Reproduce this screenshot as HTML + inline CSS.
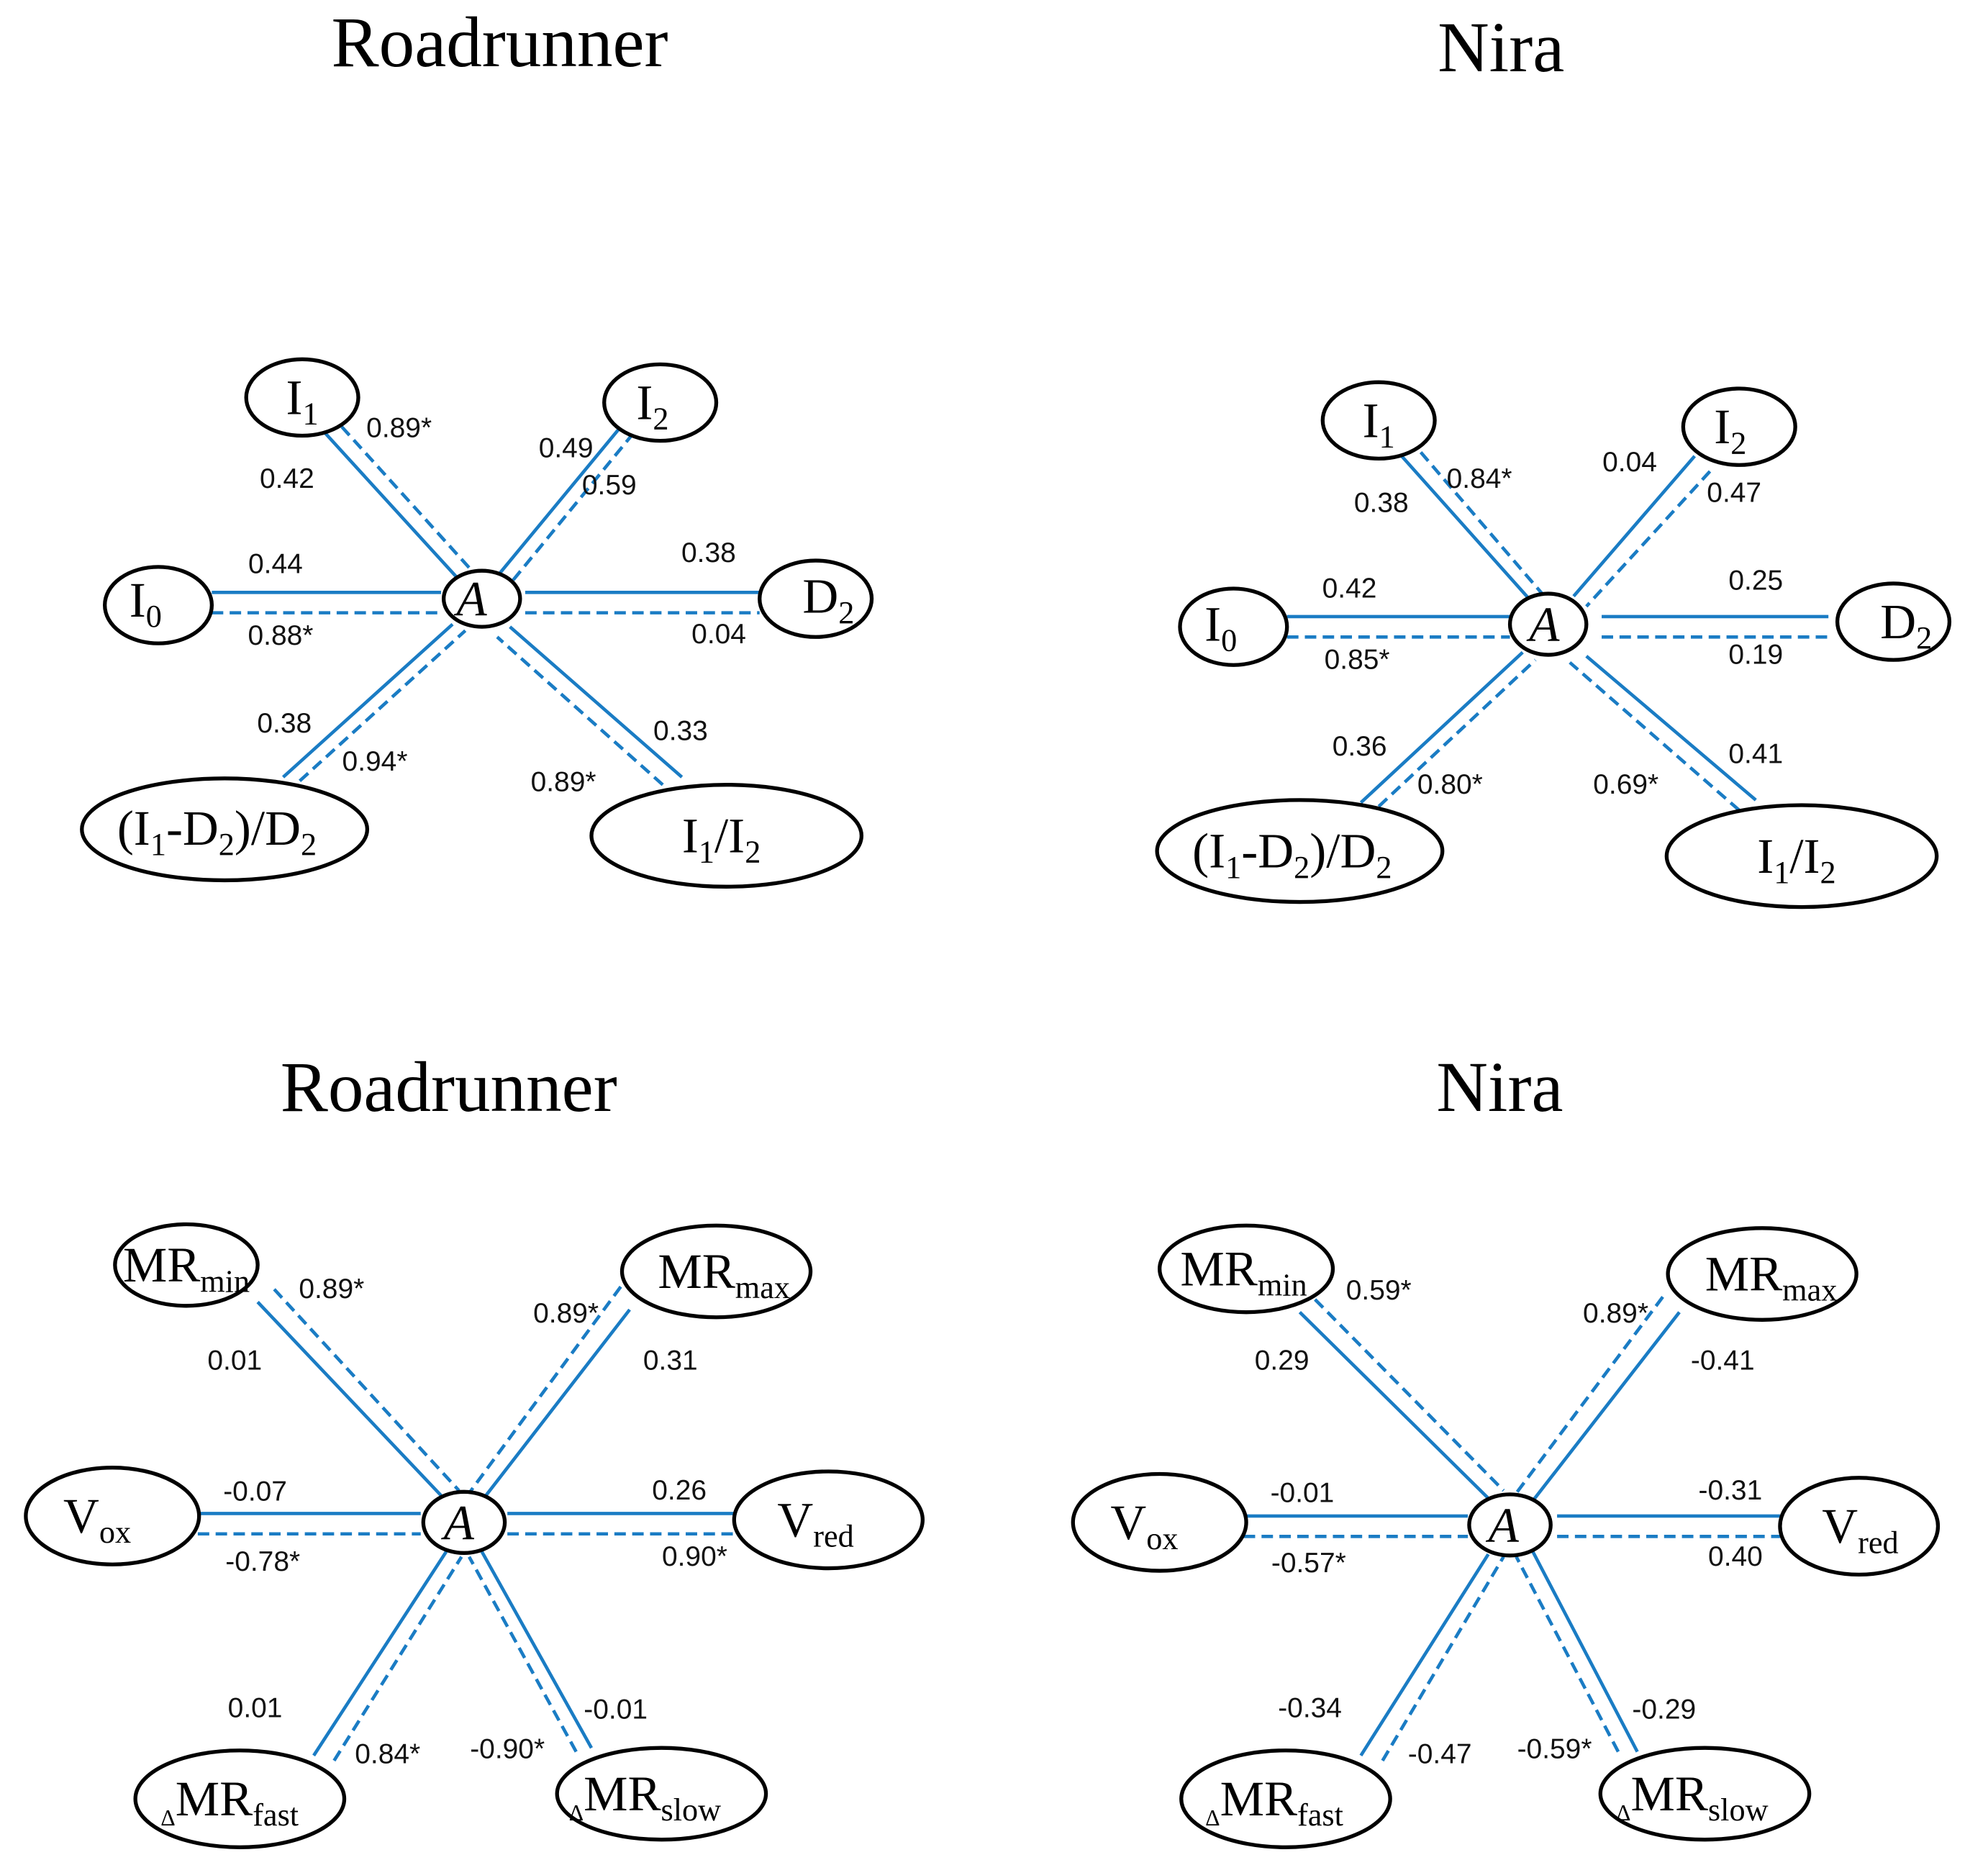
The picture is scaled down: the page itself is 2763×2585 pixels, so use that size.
<!DOCTYPE html>
<html><head><meta charset="utf-8"><style>
html,body{margin:0;padding:0;background:#fff}
svg{display:block}
.t{font-family:"Liberation Serif",serif;font-size:56px}
.n{font-family:"Liberation Serif",serif;font-size:39px}
.l{font-family:"Liberation Sans","DejaVu Sans",sans-serif;font-size:22px;fill:#111}
.s{stroke:#1a7cc4;stroke-width:2.6;fill:none}
.d{stroke:#1a7cc4;stroke-width:2.6;fill:none;stroke-dasharray:9 5}
ellipse{fill:#fff;stroke:#000;stroke-width:3}
</style></head><body>
<svg width="2763" height="2585" viewBox="0 0 1560 1460" xmlns="http://www.w3.org/2000/svg">
<g text-anchor="middle">
<!-- Panel 1 -->
<text class="t" x="392" y="52">Roadrunner</text>
<line class="s" x1="255" y1="340" x2="360" y2="455"/><line class="d" x1="268" y1="335" x2="372" y2="450"/>
<line class="s" x1="487" y1="335" x2="392" y2="450"/><line class="d" x1="497" y1="340" x2="402" y2="456"/>
<line class="s" x1="166" y1="465" x2="346" y2="465"/><line class="d" x1="166" y1="481" x2="346" y2="481"/>
<line class="s" x1="412" y1="465" x2="596" y2="465"/><line class="d" x1="412" y1="481" x2="596" y2="481"/>
<line class="s" x1="222" y1="610" x2="355" y2="490"/><line class="d" x1="235" y1="613" x2="365" y2="495"/>
<line class="s" x1="535" y1="610" x2="400" y2="492"/><line class="d" x1="520" y1="616" x2="390" y2="500"/>
<ellipse cx="378" cy="470" rx="30" ry="22"/><text class="n" x="370" y="483" font-style="italic">A</text>
<ellipse cx="237" cy="312" rx="44" ry="30"/><text class="n" x="237" y="325">I<tspan font-size="25" dy="8">1</tspan></text>
<ellipse cx="518" cy="316" rx="44" ry="30"/><text class="n" x="512" y="329">I<tspan font-size="25" dy="8">2</tspan></text>
<ellipse cx="124" cy="475" rx="42" ry="30"/><text class="n" x="114" y="484">I<tspan font-size="25" dy="8">0</tspan></text>
<ellipse cx="640" cy="470" rx="44" ry="30"/><text class="n" x="650" y="481">D<tspan font-size="25" dy="8">2</tspan></text>
<ellipse cx="176" cy="651" rx="112" ry="40"/><text class="n" x="170" y="663">(I<tspan font-size="25" dy="8">1</tspan><tspan dy="-8">-D</tspan><tspan font-size="25" dy="8">2</tspan><tspan dy="-8">)/D</tspan><tspan font-size="25" dy="8">2</tspan></text>
<ellipse cx="570" cy="656" rx="106" ry="40"/><text class="n" x="566" y="669">I<tspan font-size="25" dy="8">1</tspan><tspan dy="-8">/I</tspan><tspan font-size="25" dy="8">2</tspan></text>
<text class="l" x="313" y="343">0.89*</text><text class="l" x="225" y="383">0.42</text>
<text class="l" x="444" y="359">0.49</text><text class="l" x="478" y="388">0.59</text>
<text class="l" x="216" y="450">0.44</text><text class="l" x="220" y="506">0.88*</text>
<text class="l" x="556" y="441">0.38</text><text class="l" x="564" y="505">0.04</text>
<text class="l" x="223" y="575">0.38</text><text class="l" x="294" y="605">0.94*</text>
<text class="l" x="442" y="621">0.89*</text><text class="l" x="534" y="581">0.33</text>

<!-- Panel 2 -->
<text class="t" x="1178" y="56">Nira</text>
<line class="s" x1="1100" y1="358" x2="1200" y2="470"/><line class="d" x1="1115" y1="355" x2="1212" y2="468"/>
<line class="s" x1="1330" y1="358" x2="1235" y2="468"/><line class="d" x1="1342" y1="370" x2="1245" y2="476"/>
<line class="s" x1="1010" y1="484" x2="1185" y2="484"/><line class="d" x1="1010" y1="500" x2="1185" y2="500"/>
<line class="s" x1="1257" y1="484" x2="1435" y2="484"/><line class="d" x1="1257" y1="500" x2="1435" y2="500"/>
<line class="s" x1="1068" y1="630" x2="1195" y2="512"/><line class="d" x1="1082" y1="633" x2="1205" y2="518"/>
<line class="s" x1="1378" y1="628" x2="1245" y2="515"/><line class="d" x1="1365" y1="636" x2="1232" y2="520"/>
<ellipse cx="1215" cy="490" rx="30" ry="24"/><text class="n" x="1212" y="503" font-style="italic">A</text>
<ellipse cx="1082" cy="330" rx="44" ry="30"/><text class="n" x="1082" y="343">I<tspan font-size="25" dy="8">1</tspan></text>
<ellipse cx="1365" cy="335" rx="44" ry="30"/><text class="n" x="1358" y="348">I<tspan font-size="25" dy="8">2</tspan></text>
<ellipse cx="968" cy="492" rx="42" ry="30"/><text class="n" x="958" y="503">I<tspan font-size="25" dy="8">0</tspan></text>
<ellipse cx="1486" cy="488" rx="44" ry="30"/><text class="n" x="1496" y="501">D<tspan font-size="25" dy="8">2</tspan></text>
<ellipse cx="1020" cy="668" rx="112" ry="40"/><text class="n" x="1014" y="681">(I<tspan font-size="25" dy="8">1</tspan><tspan dy="-8">-D</tspan><tspan font-size="25" dy="8">2</tspan><tspan dy="-8">)/D</tspan><tspan font-size="25" dy="8">2</tspan></text>
<ellipse cx="1414" cy="672" rx="106" ry="40"/><text class="n" x="1410" y="685">I<tspan font-size="25" dy="8">1</tspan><tspan dy="-8">/I</tspan><tspan font-size="25" dy="8">2</tspan></text>
<text class="l" x="1084" y="402">0.38</text><text class="l" x="1161" y="383">0.84*</text>
<text class="l" x="1279" y="370">0.04</text><text class="l" x="1361" y="394">0.47</text>
<text class="l" x="1059" y="469">0.42</text><text class="l" x="1065" y="525">0.85*</text>
<text class="l" x="1378" y="463">0.25</text><text class="l" x="1378" y="521">0.19</text>
<text class="l" x="1067" y="593">0.36</text><text class="l" x="1138" y="623">0.80*</text>
<text class="l" x="1276" y="623">0.69*</text><text class="l" x="1378" y="599">0.41</text>

<!-- Panel 3 -->
<text class="t" x="352" y="872">Roadrunner</text>
<line class="s" x1="202" y1="1022" x2="348" y2="1176"/><line class="d" x1="215" y1="1012" x2="360" y2="1170"/>
<line class="s" x1="494" y1="1028" x2="378" y2="1178"/><line class="d" x1="487" y1="1010" x2="368" y2="1172"/>
<line class="s" x1="155" y1="1188" x2="330" y2="1188"/><line class="d" x1="155" y1="1204" x2="330" y2="1204"/>
<line class="s" x1="398" y1="1188" x2="576" y2="1188"/><line class="d" x1="398" y1="1204" x2="576" y2="1204"/>
<line class="s" x1="246" y1="1378" x2="350" y2="1218"/><line class="d" x1="262" y1="1382" x2="362" y2="1222"/>
<line class="s" x1="464" y1="1372" x2="378" y2="1218"/><line class="d" x1="452" y1="1375" x2="368" y2="1222"/>
<ellipse cx="364" cy="1195" rx="32" ry="24"/><text class="n" x="360" y="1208" font-style="italic">A</text>
<ellipse cx="146" cy="993" rx="56" ry="32"/><text class="n" x="146" y="1006">MR<tspan font-size="25" dy="8">min</tspan></text>
<ellipse cx="562" cy="998" rx="74" ry="36"/><text class="n" x="568" y="1011">MR<tspan font-size="25" dy="8">max</tspan></text>
<ellipse cx="88" cy="1190" rx="68" ry="38"/><text class="n" x="76" y="1203">V<tspan font-size="25" dy="8">ox</tspan></text>
<ellipse cx="650" cy="1193" rx="74" ry="38"/><text class="n" x="640" y="1206">V<tspan font-size="25" dy="8">red</tspan></text>
<ellipse cx="188" cy="1412" rx="82" ry="38"/><text class="n" x="180" y="1425"><tspan font-size="18" dy="8">Δ</tspan><tspan dy="-8">MR</tspan><tspan font-size="25" dy="8">fast</tspan></text>
<ellipse cx="519" cy="1408" rx="82" ry="36"/><text class="n" x="506" y="1421"><tspan font-size="18" dy="8">Δ</tspan><tspan dy="-8">MR</tspan><tspan font-size="25" dy="8">slow</tspan></text>
<text class="l" x="260" y="1019">0.89*</text><text class="l" x="184" y="1075">0.01</text>
<text class="l" x="444" y="1038">0.89*</text><text class="l" x="526" y="1075">0.31</text>
<text class="l" x="200" y="1178">-0.07</text><text class="l" x="206" y="1233">-0.78*</text>
<text class="l" x="533" y="1177">0.26</text><text class="l" x="545" y="1229">0.90*</text>
<text class="l" x="200" y="1348">0.01</text><text class="l" x="304" y="1384">0.84*</text>
<text class="l" x="398" y="1380">-0.90*</text><text class="l" x="483" y="1349">-0.01</text>

<!-- Panel 4 -->
<text class="t" x="1177" y="872">Nira</text>
<line class="s" x1="1020" y1="1030" x2="1170" y2="1178"/><line class="d" x1="1032" y1="1020" x2="1180" y2="1170"/>
<line class="s" x1="1318" y1="1030" x2="1203" y2="1178"/><line class="d" x1="1305" y1="1018" x2="1190" y2="1172"/>
<line class="s" x1="976" y1="1190" x2="1152" y2="1190"/><line class="d" x1="976" y1="1206" x2="1152" y2="1206"/>
<line class="s" x1="1222" y1="1190" x2="1397" y2="1190"/><line class="d" x1="1222" y1="1206" x2="1397" y2="1206"/>
<line class="s" x1="1068" y1="1378" x2="1168" y2="1220"/><line class="d" x1="1085" y1="1382" x2="1180" y2="1222"/>
<line class="s" x1="1285" y1="1375" x2="1203" y2="1218"/><line class="d" x1="1270" y1="1375" x2="1190" y2="1222"/>
<ellipse cx="1185" cy="1197" rx="32" ry="24"/><text class="n" x="1180" y="1210" font-style="italic">A</text>
<ellipse cx="978" cy="996" rx="68" ry="34"/><text class="n" x="976" y="1009">MR<tspan font-size="25" dy="8">min</tspan></text>
<ellipse cx="1383" cy="1000" rx="74" ry="36"/><text class="n" x="1390" y="1013">MR<tspan font-size="25" dy="8">max</tspan></text>
<ellipse cx="910" cy="1195" rx="68" ry="38"/><text class="n" x="898" y="1208">V<tspan font-size="25" dy="8">ox</tspan></text>
<ellipse cx="1459" cy="1198" rx="62" ry="38"/><text class="n" x="1460" y="1211">V<tspan font-size="25" dy="8">red</tspan></text>
<ellipse cx="1009" cy="1412" rx="82" ry="38"/><text class="n" x="1000" y="1425"><tspan font-size="18" dy="8">Δ</tspan><tspan dy="-8">MR</tspan><tspan font-size="25" dy="8">fast</tspan></text>
<ellipse cx="1338" cy="1408" rx="82" ry="36"/><text class="n" x="1328" y="1421"><tspan font-size="18" dy="8">Δ</tspan><tspan dy="-8">MR</tspan><tspan font-size="25" dy="8">slow</tspan></text>
<text class="l" x="1082" y="1020">0.59*</text><text class="l" x="1006" y="1075">0.29</text>
<text class="l" x="1268" y="1038">0.89*</text><text class="l" x="1352" y="1075">-0.41</text>
<text class="l" x="1022" y="1179">-0.01</text><text class="l" x="1027" y="1234">-0.57*</text>
<text class="l" x="1358" y="1177">-0.31</text><text class="l" x="1362" y="1229">0.40</text>
<text class="l" x="1028" y="1348">-0.34</text><text class="l" x="1130" y="1384">-0.47</text>
<text class="l" x="1220" y="1380">-0.59*</text><text class="l" x="1306" y="1349">-0.29</text>
</g>
</svg>
</body></html>
